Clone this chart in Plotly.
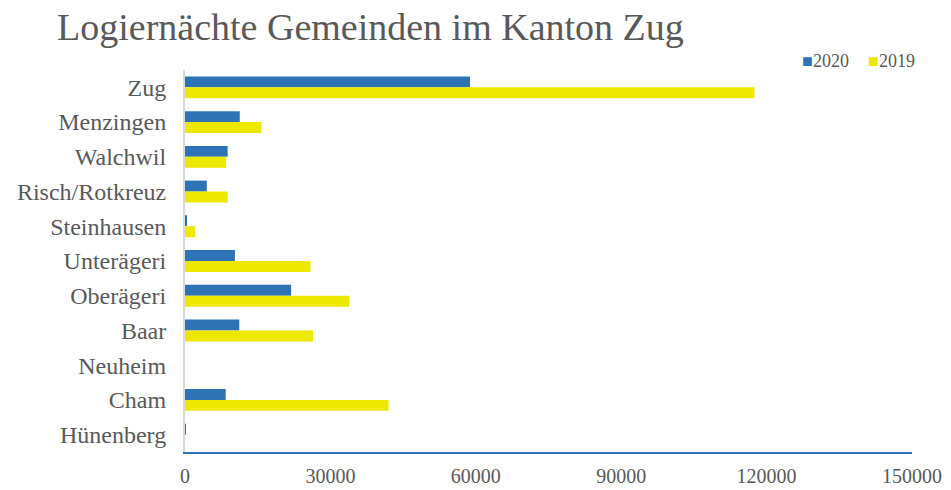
import plotly.graph_objects as go

categories = ["Zug", "Menzingen", "Walchwil", "Risch/Rotkreuz", "Steinhausen",
              "Unterägeri", "Oberägeri", "Baar", "Neuheim", "Cham", "Hünenberg"]
values_2020 = [58800, 11300, 8800, 4500, 250, 10300, 21900, 11200, 0, 8400, 200]
values_2019 = [117500, 15800, 8500, 8800, 2100, 25900, 33900, 26400, 0, 42000, 0]
x_ticks = [0, 30000, 60000, 90000, 120000, 150000]
series_names = ["2020", "2019"]
series_colors = ["#2E74B5", "#EDE800"]

FONT = "Liberation Serif"
GRAY = "#595959"

fig = go.Figure()
for name, vals, col in zip(series_names, [values_2020, values_2019], series_colors):
    fig.add_trace(go.Bar(y=categories, x=vals, name=name, orientation="h",
                         marker=dict(color=col, line=dict(width=0)), showlegend=False))

# legend drawn as text items (compact, like the reference)
legend_x = [800, 866]
for name, col, lx in zip(series_names, series_colors, legend_x):
    fig.add_annotation(text=f"<span style='color:{col}'>■</span>{name}",
                       xref="paper", yref="paper",
                       x=(lx - 185) / (951 - 185 - 39), y=1 + (70 - 61) / 382,
                       xanchor="left", yanchor="middle", showarrow=False,
                       font=dict(family=FONT, size=18, color=GRAY))

fig.update_layout(
    width=951, height=490,
    margin=dict(l=185, r=39, t=70, b=38, autoexpand=False),
    paper_bgcolor="white", plot_bgcolor="white",
    barmode="group", bargap=0.37, bargroupgap=0,
    font=dict(family=FONT, color=GRAY),
    title=dict(text="Logiernächte Gemeinden im Kanton Zug", x=57/951, xanchor="left",
               y=0.946, yanchor="middle", font=dict(family=FONT, size=38, color=GRAY)),
    showlegend=False,
)
fig.update_xaxes(range=[0, 150000], tickvals=x_ticks, ticktext=[str(v) for v in x_ticks],
                 showgrid=False, zeroline=False, showline=True, linecolor="#2E74B5",
                 linewidth=2, ticks="", ticklabelstandoff=5, automargin=False,
                 tickfont=dict(family=FONT, size=20, color=GRAY))
fig.update_yaxes(autorange="reversed", showgrid=False, zeroline=False, showline=True,
                 linecolor="#D9D9D9", linewidth=2, ticks="", ticklabelstandoff=12,
                 automargin=False,
                 tickfont=dict(family=FONT, size=24, color=GRAY))

fig.write_html("out.html", config={"displayModeBar": False},
               post_script="document.body.style.margin='0px';")
